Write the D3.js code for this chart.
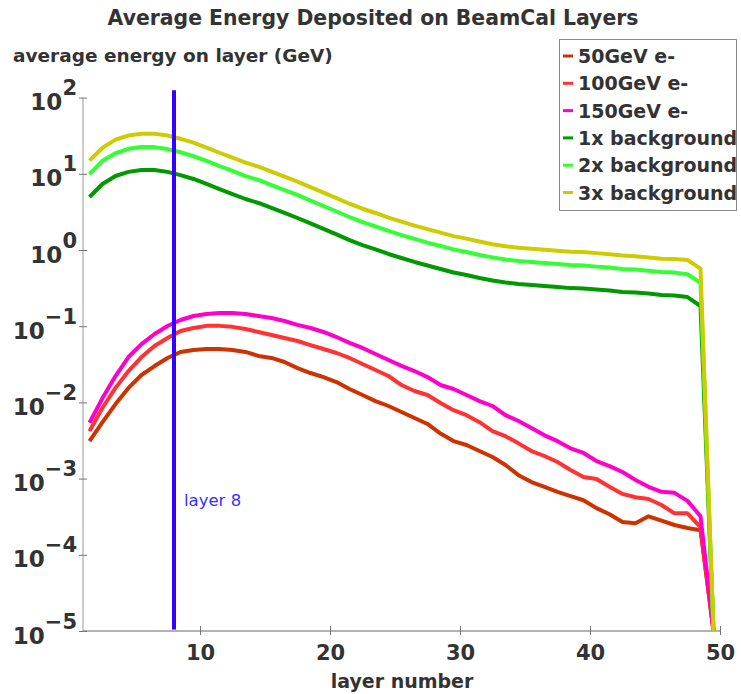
<!DOCTYPE html>
<html>
<head>
<meta charset="utf-8">
<script src="https://cdn.jsdelivr.net/npm/d3@7"></script>
<style>
  body { margin: 0; background: #fff; }
  text { font-family: "DejaVu Sans", sans-serif; fill: #333; }
</style>
</head>
<body>
<svg id="chart" width="741" height="694"></svg>
<script>
// layer centres (bin centres of the 50 BeamCal layers)
var layers = [1.5, 2.5, 3.5, 4.5, 5.5, 6.5, 7.5, 8.5, 9.5, 10.5,
  11.5, 12.5, 13.5, 14.5, 15.5, 16.5, 17.5, 18.5, 19.5, 20.5,
  21.5, 22.5, 23.5, 24.5, 25.5, 26.5, 27.5, 28.5, 29.5, 30.5,
  31.5, 32.5, 33.5, 34.5, 35.5, 36.5, 37.5, 38.5, 39.5, 40.5,
  41.5, 42.5, 43.5, 44.5, 45.5, 46.5, 47.5, 48.5, 49.5];

// average energy per layer (GeV)
var e50 = [3.1e-3, 5.5e-3, 9.5e-3, 0.0155, 0.0229, 0.030, 0.0383, 0.0458, 0.0488, 0.0503,
  0.0503, 0.0488, 0.046, 0.0407, 0.0383, 0.0339, 0.0282, 0.0243, 0.0215, 0.0185,
  0.0150, 0.0125, 0.0104, 8.97e-3, 7.48e-3, 6.24e-3, 5.21e-3, 3.9e-3, 3.11e-3, 2.76e-3,
  2.30e-3, 1.92e-3, 1.51e-3, 1.11e-3, 9.0e-4, 7.8e-4, 6.7e-4, 5.9e-4, 5.2e-4, 4.1e-4,
  3.4e-4, 2.7e-4, 2.6e-4, 3.2e-4, 2.8e-4, 2.46e-4, 2.25e-4, 2.1e-4, 1e-5];
var e100 = [4.2e-3, 8.5e-3, 0.0155, 0.0258, 0.0394, 0.055, 0.070, 0.0865, 0.0946, 0.101,
  0.101, 0.098, 0.0918, 0.084, 0.0768, 0.070, 0.064, 0.0566, 0.0502, 0.0445,
  0.0383, 0.0319, 0.0266, 0.0222, 0.0169, 0.0141, 0.0125, 9.8e-3, 7.9e-3, 6.8e-3,
  5.5e-3, 4.2e-3, 3.6e-3, 2.9e-3, 2.3e-3, 1.98e-3, 1.65e-3, 1.30e-3, 1.05e-3, 9.9e-4,
  7.8e-4, 6.3e-4, 5.7e-4, 5.4e-4, 4.5e-4, 3.5e-4, 3.5e-4, 2.3e-4, 1e-5];
var e150 = [5.4e-3, 0.0114, 0.0222, 0.0394, 0.0583, 0.079, 0.1007, 0.1205, 0.136, 0.1445,
  0.149, 0.149, 0.1445, 0.136, 0.128, 0.117, 0.104, 0.0946, 0.084, 0.0721,
  0.0603, 0.0518, 0.0432, 0.036, 0.0301, 0.0258, 0.0215, 0.0169, 0.015, 0.0125,
  0.0104, 8.97e-3, 6.8e-3, 5.7e-3, 4.6e-3, 3.7e-3, 3.1e-3, 2.5e-3, 2.17e-3, 1.70e-3,
  1.46e-3, 1.22e-3, 9.6e-4, 7.8e-4, 6.7e-4, 6.5e-4, 5.1e-4, 3.2e-4, 1e-5];
var bg1 = [4.96, 7.35, 9.35, 10.6, 11.2, 11.2, 10.6, 9.6, 8.55, 7.35,
  6.3, 5.43, 4.67, 4.14, 3.56, 3.06, 2.63, 2.23, 1.89, 1.60,
  1.35, 1.16, 1.02, 0.887, 0.785, 0.697, 0.627, 0.564, 0.507, 0.47,
  0.43, 0.398, 0.374, 0.358, 0.348, 0.337, 0.327, 0.316, 0.313, 0.303,
  0.294, 0.281, 0.277, 0.268, 0.257, 0.253, 0.241, 0.184, 1e-5];
var bg2 = [9.9, 14.8, 18.6, 21.3, 22.5, 22.4, 21.1, 19.2, 17.0, 14.8,
  12.6, 10.9, 9.3, 8.3, 7.1, 6.1, 5.3, 4.45, 3.78, 3.2,
  2.71, 2.32, 2.04, 1.78, 1.57, 1.40, 1.25, 1.13, 1.02, 0.94,
  0.86, 0.80, 0.75, 0.716, 0.695, 0.675, 0.655, 0.635, 0.625, 0.605,
  0.59, 0.565, 0.555, 0.535, 0.515, 0.505, 0.48, 0.37, 1e-5];
var bg3 = [14.9, 22.0, 28.1, 31.8, 33.6, 33.5, 31.8, 28.8, 25.6, 22.1,
  18.9, 16.3, 14.0, 12.4, 10.7, 9.2, 7.9, 6.7, 5.65, 4.8,
  4.05, 3.48, 3.06, 2.66, 2.36, 2.09, 1.88, 1.69, 1.52, 1.41,
  1.29, 1.19, 1.12, 1.07, 1.04, 1.01, 0.98, 0.95, 0.94, 0.91,
  0.88, 0.845, 0.83, 0.80, 0.77, 0.76, 0.74, 0.57, 1e-5];

var seriesNames = ["50GeV e-", "100GeV e-", "150GeV e-", "1x background", "2x background", "3x background"];
var seriesValues = [e50, e100, e150, bg1, bg2, bg3];
var seriesColors = ["#cc3300", "#ff3333", "#ff00cc", "#009900", "#33ff33", "#cccc00"];

var xTicks = [10, 20, 30, 40, 50];
var yTicks = [1e-5, 1e-4, 1e-3, 1e-2, 1e-1, 1e0, 1e1, 1e2];

// marker for layer 8
var markerLayer = 8;
var markerRange = [1.05e-5, 125];
var markerLabel = "layer 8";

var svg = d3.select("#chart");

var x = d3.scaleLinear().domain([1, 50]).range([83, 720]);
var y = d3.scaleLog().domain([1e-5, 1e2]).range([631, 97.6]);

svg.append("clipPath").attr("id", "plotclip")
  .append("rect")
    .attr("x", x(1)).attr("y", 0)
    .attr("width", x(50) - x(1) + 10)
    .attr("height", y(1e-5));

/* axes */
var xAxis = svg.append("g")
  .attr("class", "x_axis")
  .attr("transform", "translate(0," + y(1e-5) + ")")
  .call(d3.axisBottom(x).tickValues(xTicks).tickSize(4).tickPadding(10));
xAxis.select(".domain").attr("stroke", "#666").attr("d", "M" + x(1) + ",0H" + x(50));
xAxis.selectAll(".tick line").attr("y1", -5).attr("stroke", "#777");
xAxis.selectAll(".tick text")
  .style("font-size", "21px").style("font-weight", "bold").attr("fill", "#333");

var yAxis = svg.append("g")
  .attr("class", "y_axis")
  .attr("transform", "translate(" + x(1) + ",0)")
  .call(d3.axisLeft(y).tickValues(yTicks).tickSize(4).tickFormat(""));
yAxis.select(".domain").attr("stroke", "#999").attr("d", "M0," + y(1e2) + "V" + y(1e-5));
yAxis.selectAll(".tick line").attr("x1", 4).attr("stroke", "#777");

// power-of-ten labels with a raised exponent
yAxis.selectAll(".tick text").each(function(d) {
  var t = d3.select(this)
    .attr("x", -6).attr("dy", null).attr("y", 12)
    .style("text-anchor", "end")
    .style("font-weight", "bold")
    .attr("fill", "#333");
  var p = Math.round(Math.log10(d));
  t.text(null);
  t.append("tspan").style("font-size", "23px").text("10");
  t.append("tspan").style("font-size", "21px").attr("dy", -15)
    .text(p < 0 ? "\u2212" + (-p) : p);
});

/* series */
var line = d3.line()
  .x(function(d, i) { return x(layers[i]); })
  .y(function(d) { return y(d); });

svg.append("g").attr("clip-path", "url(#plotclip)")
  .selectAll(".series")
  .data(seriesValues)
  .enter()
  .append("path")
    .attr("class", "series")
    .attr("d", line)
    .attr("fill", "none")
    .attr("stroke", function(d, i) { return seriesColors[i]; })
    .attr("stroke-width", 4)
    .attr("stroke-linejoin", "round");

// vertical marker line
svg.append("line")
  .attr("x1", x(markerLayer)).attr("x2", x(markerLayer))
  .attr("y1", y(markerRange[0])).attr("y2", y(markerRange[1]))
  .attr("stroke", "#3300ff")
  .attr("stroke-width", 4);

svg.append("text")
  .attr("x", x(markerLayer) + 10)
  .attr("y", y(4.4e-4))
  .style("font-size", "16.5px")
  .style("fill", "#3333ff")
  .text(markerLabel);

/* titles */
svg.append("text")
  .attr("x", 373).attr("y", 25)
  .style("text-anchor", "middle")
  .style("font-size", "20.4px").style("font-weight", "bold")
  .text("Average Energy Deposited on BeamCal Layers");

svg.append("text")
  .attr("x", 13).attr("y", 62)
  .style("font-size", "18.5px").style("font-weight", "bold")
  .text("average energy on layer (GeV)");

svg.append("text")
  .attr("x", 402).attr("y", 688)
  .style("text-anchor", "middle")
  .style("font-size", "19px").style("font-weight", "bold")
  .text("layer number");

/* legend */
var legend = svg.append("g").attr("class", "legend");
legend.append("rect")
  .attr("x", 559.5).attr("y", 39.5)
  .attr("width", 177).attr("height", 171)
  .attr("fill", "#fff").attr("stroke", "#888");

var rows = legend.selectAll(".row")
  .data(seriesNames)
  .enter()
  .append("g")
    .attr("class", "row")
    .attr("transform", function(d, i) { return "translate(0," + (63 + i * 27.3) + ")"; });

rows.append("line")
  .attr("x1", 563).attr("x2", 573)
  .attr("y1", -7).attr("y2", -7)
  .attr("stroke", function(d, i) { return seriesColors[i]; })
  .attr("stroke-width", 3);

rows.append("text")
  .attr("x", 578)
  .style("font-size", "19px").style("font-weight", "bold")
  .text(function(d) { return d; });
</script>
</body>
</html>
